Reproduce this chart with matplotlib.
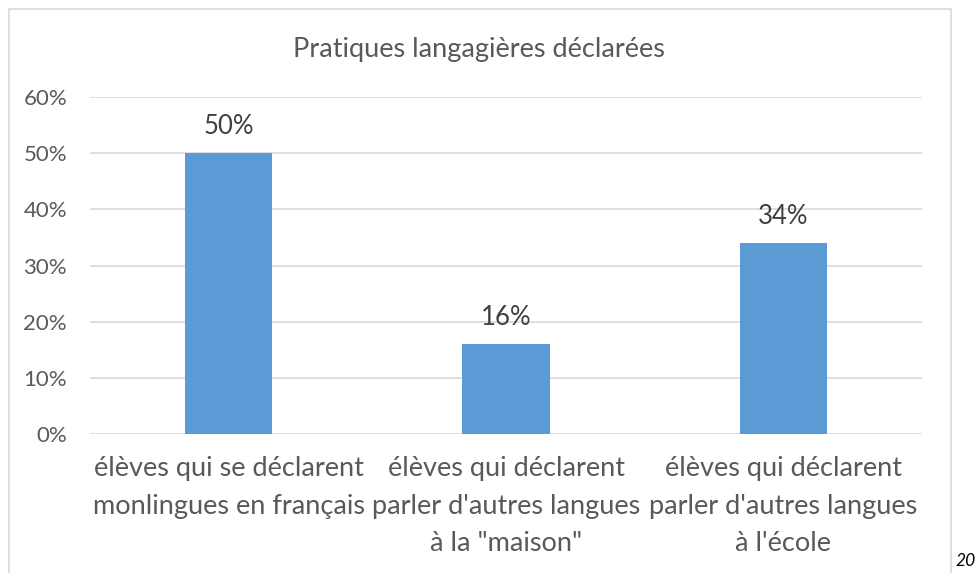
import matplotlib.pyplot as plt
from matplotlib.patches import Rectangle
from matplotlib.ticker import FuncFormatter

plt.rcParams["font.family"] = ["Lato", "DejaVu Sans"]

categories = [
    "élèves qui se déclarent\nmonlingues en français",
    "élèves qui déclarent\nparler d'autres langues\nà la \"maison\"",
    "élèves qui déclarent\nparler d'autres langues\nà l'école",
]
values = [0.50, 0.16, 0.34]
title = "Pratiques langagières déclarées"
page_number = "20"

text_color = "#595959"
bar_color = "#5b9bd5"
grid_color = "#d9d9d9"

W, H = 975, 573
fig = plt.figure(figsize=(W / 100, H / 100), dpi=100)

# outer chart frame (bottom edge runs off the page)
fig.add_artist(Rectangle((9 / W, -0.05), (951 - 9) / W, 1.05 - 9 / H,
                         transform=fig.transFigure, fill=False,
                         edgecolor="#d9d9d9", linewidth=1.2, clip_on=False))

ax = fig.add_axes([90 / W, (H - 434) / H, (922 - 90) / W, (434 - 97) / H])
x = range(len(values))
bars = ax.bar(x, values, width=0.314, color=bar_color, zorder=3)
for b, v in zip(bars, values):
    ax.text(b.get_x() + b.get_width() / 2, v + 0.025, f"{v:.0%}",
            ha="center", va="bottom", fontsize=18.5, color="#404040")

ax.set_xlim(-0.5, len(values) - 0.5)
ax.set_ylim(0, 0.6)
ax.set_yticks([i / 10 for i in range(7)])
ax.yaxis.set_major_formatter(FuncFormatter(lambda v, _: f"{v:.0%}"))
ax.set_xticks(list(x))
ax.set_xticklabels(categories, fontsize=19.5, color=text_color, linespacing=1.63)
ax.tick_params(axis="y", labelsize=16, labelcolor=text_color, length=0, pad=16.5)
ax.tick_params(axis="x", length=0, pad=16)
ax.grid(axis="y", color=grid_color, linewidth=1.2, zorder=0)
for s in ax.spines.values():
    s.set_visible(False)

fig.text(479 / W, 1 - 50 / H, title, ha="center", va="center",
         fontsize=19.5, color=text_color)
fig.text(955 / W, 1 - 561 / H, page_number, ha="left", va="center",
         fontsize=12.5, style="italic", color="black")

fig.savefig("out.png", dpi=100)
